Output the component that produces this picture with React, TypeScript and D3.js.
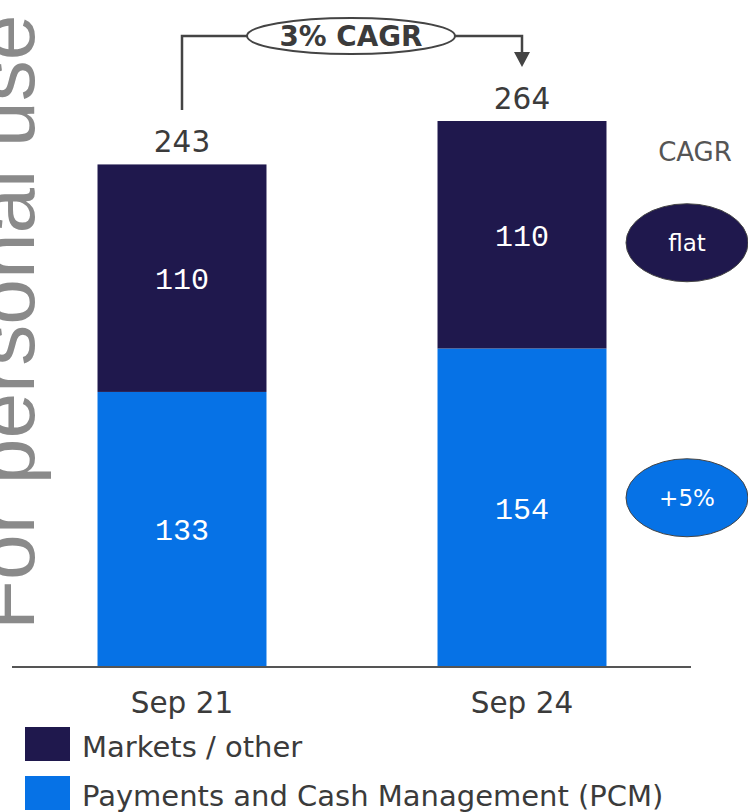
import * as d3 from 'd3';

const categories = ['Sep 21', 'Sep 24'];
const seriesKeys = ['pcm', 'markets'];
const seriesNames = ['Payments and Cash Management (PCM)', 'Markets / other'];
const pcmValues = [133, 154];
const marketsValues = [110, 110];
const totals = [243, 264];
const cagrLabels = ['flat', '+5%'];
const overallCagr = '3% CAGR';

const W = 748;
const H = 812;
const sans = '"DejaVu Sans", sans-serif';
const mono = '"Liberation Mono", monospace';
const dark = '#1f184d';
const blue = '#0672e6';
const textGray = '#3b3b3b';

const App = () => {
  const rows = categories.map((c, i) => ({ cat: c, pcm: pcmValues[i], markets: marketsValues[i] }));
  const stacked = d3.stack().keys(seriesKeys)(rows as any);
  const colors = { pcm: blue, markets: dark };

  const x = d3.scaleBand().domain(categories).range([12, 692]).paddingInner(0.503).paddingOuter(0.2515);
  const y = d3.scaleLinear().domain([0, 264]).range([667, 121]);

  const cx = (c) => (x(c) as number) + x.bandwidth() / 2;
  const xl = cx(categories[0]);
  const xr = cx(categories[1]);

  // CAGR pills sit beside the second bar, at each segment's middle
  const pillX = 687;
  const last = categories.length - 1;
  const pillY = {
    markets: (y(stacked[1][last][0]) + y(stacked[1][last][1])) / 2 + 8,
    pcm: (y(stacked[0][last][0]) + y(stacked[0][last][1])) / 2 - 10,
  };

  const bracketY = 36;
  const arrowTip = 67;

  return (
    <div style={{ position: 'absolute', left: 0, top: 0 }}>
      <svg width={W} height={H} style={{ display: 'block' }}>
        <rect width={W} height={H} fill="#fff" />

        {/* watermark */}
        <text
          transform="translate(34,630) rotate(-90)"
          fontFamily='"Liberation Sans", sans-serif'
          fontSize={82}
          fontWeight={300}
          fill="#8a8a8a"
        >
          For personal use only
        </text>

        {stacked.map((s) => (
          <g key={s.key}>
            {s.map((d, i) => (
              <g key={i}>
                <rect
                  x={x(categories[i])}
                  y={y(d[1])}
                  width={x.bandwidth()}
                  height={y(d[0]) - y(d[1])}
                  fill={colors[s.key]}
                />
                <text
                  x={cx(categories[i])}
                  y={(y(d[0]) + y(d[1])) / 2}
                  dy="0.36em"
                  textAnchor="middle"
                  fontFamily={mono}
                  fontSize={30}
                  fill="#fff"
                >
                  {d[1] - d[0]}
                </text>
              </g>
            ))}
          </g>
        ))}

        {totals.map((t, i) => (
          <text
            key={i}
            x={cx(categories[i])}
            y={y(t) - 12}
            textAnchor="middle"
            fontFamily={sans}
            fontSize={29.5}
            fill={textGray}
          >
            {t}
          </text>
        ))}

        <line x1={12} x2={691} y1={667} y2={667} stroke="#555" strokeWidth={2} />

        {categories.map((c) => (
          <text key={c} x={cx(c)} y={713} textAnchor="middle" fontFamily={sans} fontSize={29.5} fill={textGray}>
            {c}
          </text>
        ))}

        {/* overall CAGR bracket */}
        <path
          d={`M${xl},110 V${bracketY} H${xr} V${arrowTip - 14}`}
          fill="none"
          stroke="#444"
          strokeWidth={2.5}
        />
        <path d={`M${xr - 8},${arrowTip - 15} L${xr + 8},${arrowTip - 15} L${xr},${arrowTip} Z`} fill="#444" />
        <ellipse cx={351} cy={bracketY} rx={104} ry={18} fill="#fff" stroke="#444" strokeWidth={2} />
        <text
          x={351}
          y={bracketY}
          dy="0.36em"
          textAnchor="middle"
          fontFamily={sans}
          fontWeight="bold"
          fontSize={27.8}
          fill={textGray}
        >
          {overallCagr}
        </text>

        {/* segment CAGR */}
        <text x={pillX + 8} y={161} textAnchor="middle" fontFamily={sans} fontSize={26} fill="#555">
          CAGR
        </text>
        {['markets', 'pcm'].map((k, i) => (
          <g key={k}>
            <ellipse cx={pillX} cy={pillY[k]} rx={61} ry={39} fill={colors[k]} stroke="#444" strokeWidth={1} />
            <text
              x={pillX}
              y={pillY[k]}
              dy="0.36em"
              textAnchor="middle"
              fontFamily={sans}
              fontSize={23}
              fill="#fff"
            >
              {cagrLabels[i]}
            </text>
          </g>
        ))}

        {/* legend */}
        {[1, 0].map((si, j) => (
          <g key={si} transform={`translate(25,${727 + j * 49})`}>
            <rect width={45} height={34} fill={colors[seriesKeys[si]]} />
            <text x={57} y={30} fontFamily={sans} fontSize={29} fill={textGray}>
              {seriesNames[si]}
            </text>
          </g>
        ))}
      </svg>
    </div>
  );
};

export default App;
